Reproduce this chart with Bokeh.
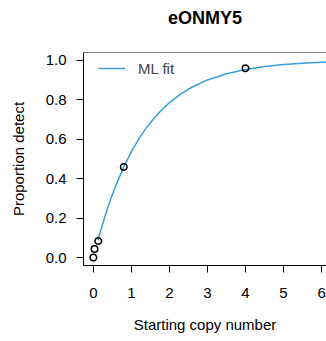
from bokeh.plotting import figure
from bokeh.models import Span, Range1d, FixedTicker, Legend, LegendItem
from bokeh.embed import file_html
from bokeh.resources import INLINE

title_text = "eONMY5"
x_label = "Starting copy number"
y_label = "Proportion detect"

# observed points
obs_x = [0.0, 0.03, 0.13, 0.8, 4.0]
obs_y = [0.0, 0.044, 0.084, 0.46, 0.96]

# ML fit curve
fit_x = [0.12, 0.2, 0.3, 0.4, 0.5, 0.6, 0.8, 1.0, 1.2, 1.4, 1.6, 1.8, 2.0, 2.3, 2.6,
         3.0, 3.5, 4.0, 4.5, 5.0, 5.5, 6.0, 6.2]
fit_y = [0.088, 0.143, 0.206, 0.265, 0.320, 0.370, 0.460, 0.537, 0.603, 0.660, 0.708,
         0.750, 0.786, 0.830, 0.865, 0.901, 0.932, 0.954, 0.969, 0.979, 0.986, 0.990, 0.992]

x_ticks = [0, 1, 2, 3, 4, 5, 6]
y_ticks = [0.0, 0.2, 0.4, 0.6, 0.8, 1.0]
y_tick_labels = {0.0: "0.0", 0.2: "0.2", 0.4: "0.4", 0.6: "0.6", 0.8: "0.8", 1.0: "1.0"}

FONT = "Liberation Sans"

p = figure(width=326, height=341, output_backend="svg", toolbar_location=None,
           x_range=Range1d(-0.26, 6.13), y_range=Range1d(-0.04, 1.04),
           min_border_left=83, min_border_top=50, min_border_bottom=76, min_border_right=0)

# trailing blank line lifts the title away from the frame
p.title.text = title_text + "\n "
p.title.text_font = FONT
p.title.text_font_size = "18px"
p.title.text_font_style = "bold"
p.title.text_line_height = 1.0
p.title.align = "center"
p.title.text_color = "black"

p.grid.visible = False
p.outline_line_color = None
p.background_fill_color = "white"
p.border_fill_color = "white"

for ax in (p.xaxis[0], p.yaxis[0]):
    ax.axis_line_color = "black"
    ax.major_tick_line_color = "black"
    ax.major_tick_out = 7
    ax.major_tick_in = 0
    ax.minor_tick_line_color = None
    ax.major_label_text_font = FONT
    ax.major_label_text_font_size = "15px"
    ax.major_label_text_color = "black"
    ax.axis_label_text_font = FONT
    ax.axis_label_text_font_size = "15px"
    ax.axis_label_text_font_style = "normal"
    ax.axis_label_text_color = "black"

p.xaxis.ticker = FixedTicker(ticks=x_ticks)
p.yaxis.ticker = FixedTicker(ticks=y_ticks)
p.yaxis.major_label_overrides = y_tick_labels
p.yaxis.major_label_orientation = "horizontal"
p.xaxis.axis_label = x_label
p.yaxis.axis_label = y_label
p.xaxis.major_label_standoff = 15
p.xaxis.axis_label_standoff = 15
p.yaxis.major_label_standoff = 10
p.yaxis.axis_label_standoff = 16

# top box line
p.add_layout(Span(location=1.04, dimension="width", line_color="black", line_width=1))

line = p.line(fit_x, fit_y, line_color="#3A9FD8", line_width=1.5)
p.scatter(obs_x, obs_y, size=6.5, fill_color=None, line_color="black", line_width=1.5)

legend = Legend(items=[LegendItem(label="ML fit", renderers=[line])],
                location=(15, 187), padding=0, margin=0,
                glyph_width=27, glyph_height=20, label_standoff=13,
                label_text_font=FONT, label_text_font_size="15px",
                border_line_color=None, background_fill_alpha=0)
p.add_layout(legend)

open("out.html", "w").write(file_html(p, INLINE))
